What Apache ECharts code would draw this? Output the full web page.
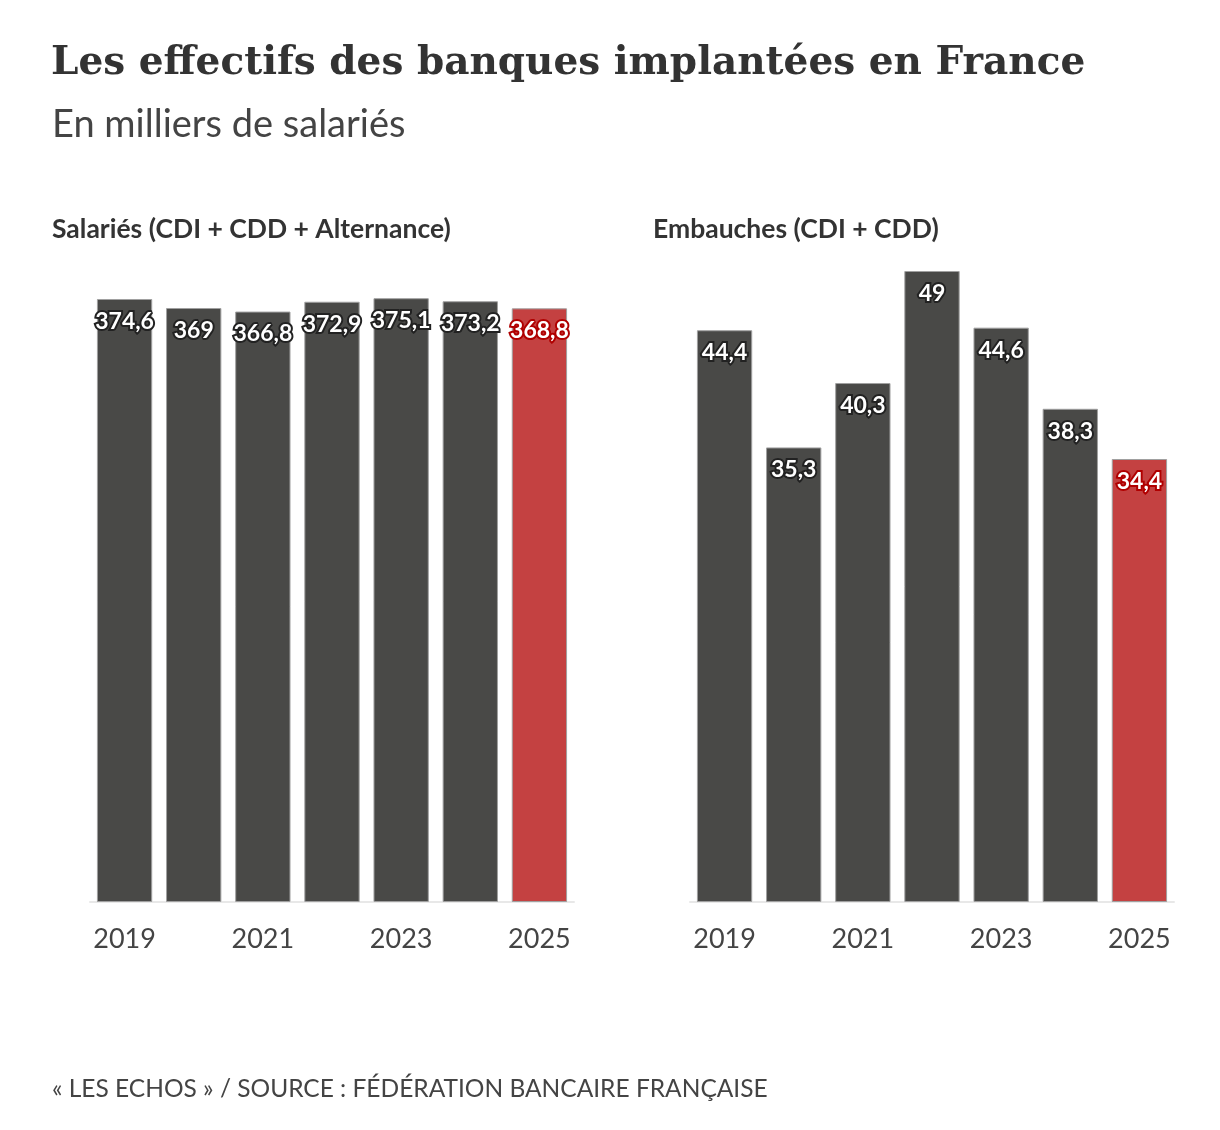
<!DOCTYPE html>
<html>
<head>
<meta charset="utf-8">
<script src="https://cdn.jsdelivr.net/npm/echarts@6/dist/echarts.min.js"></script>
<style>
  html, body { margin: 0; padding: 0; background: #fff; }
  #chart { width: 1220px; height: 1130px; }
</style>
</head>
<body>
<div id="chart"></div>
<script>
var years = ['2019', '2020', '2021', '2022', '2023', '2024', '2025'];
var salaries = [374.6, 369, 366.8, 372.9, 375.1, 373.2, 368.8];
var embauches = [44.4, 35.3, 40.3, 49, 44.6, 38.3, 34.4];
var highlightYear = '2025';

var sans = 'Lato, "Open Sans", sans-serif';
var grey = '#494947';
var red = '#c44141';

function toItems(values) {
    var items = [];
    for (var i = 0; i < values.length; i++) {
        var hot = years[i] === highlightYear;
        items.push({
            value: values[i],
            itemStyle: { color: hot ? red : grey },
            label: { textBorderColor: hot ? '#b00000' : '#222' }
        });
    }
    return items;
}

function xAxisFor(idx) {
    return {
        type: 'category',
        gridIndex: idx,
        data: years,
        axisLine: { lineStyle: { color: '#e8e8e8', width: 2 } },
        axisTick: { alignWithLabel: true, interval: 0, length: 14, lineStyle: { color: '#e8e8e8', width: 2 } },
        axisLabel: { interval: 1, color: '#444', fontSize: 27, fontFamily: sans, margin: 24 }
    };
}

function yAxisFor(idx, max) {
    return {
        type: 'value',
        gridIndex: idx,
        min: 0,
        max: max,
        show: false,
        splitLine: { show: false }
    };
}

function seriesFor(idx, values) {
    return {
        type: 'bar',
        xAxisIndex: idx,
        yAxisIndex: idx,
        barCategoryGap: '20%',
        data: toItems(values),
        itemStyle: { borderColor: '#a0a0a0', borderWidth: 1 },
        label: {
            show: true,
            position: 'insideTop',
            distance: 11,
            color: '#fff',
            fontSize: 23,
            fontWeight: 'bold',
            fontFamily: sans,
            textBorderWidth: 4,
            formatter: function (p) { return String(p.value).replace('.', ','); }
        },
        silent: true
    };
}

var myChart = echarts.init(document.getElementById('chart'));
var option = {
    animation: false,
    title: [
        {
            text: 'Les effectifs des banques implantées en France',
            left: 46, top: 39,
            textStyle: { fontFamily: '"DejaVu Serif", serif', fontWeight: 'bold', fontSize: 39, color: '#333' }
        },
        {
            text: 'En milliers de salariés',
            left: 47, top: 101,
            textStyle: { fontFamily: sans, fontWeight: 'normal', fontSize: 38, color: '#444' }
        },
        {
            text: 'Salariés (CDI + CDD + Alternance)',
            left: 47, top: 211,
            textStyle: { fontFamily: sans, fontWeight: 'bold', fontSize: 26.5, color: '#333' }
        },
        {
            text: 'Embauches (CDI + CDD)',
            left: 648, top: 211,
            textStyle: { fontFamily: sans, fontWeight: 'bold', fontSize: 26.5, color: '#333' }
        },
        {
            text: '« LES ECHOS » / SOURCE : FÉDÉRATION BANCAIRE FRANÇAISE',
            left: 47, top: 1072,
            textStyle: { fontFamily: sans, fontWeight: 'normal', fontSize: 24.5, color: '#444' }
        }
    ],
    grid: [
        { left: 90, width: 484, top: 271, height: 631 },
        { left: 690, width: 484, top: 271, height: 631 }
    ],
    xAxis: [xAxisFor(0), xAxisFor(1)],
    yAxis: [yAxisFor(0, 392), yAxisFor(1, 49)],
    series: [seriesFor(0, salaries), seriesFor(1, embauches)]
};
myChart.setOption(option);
</script>
</body>
</html>
